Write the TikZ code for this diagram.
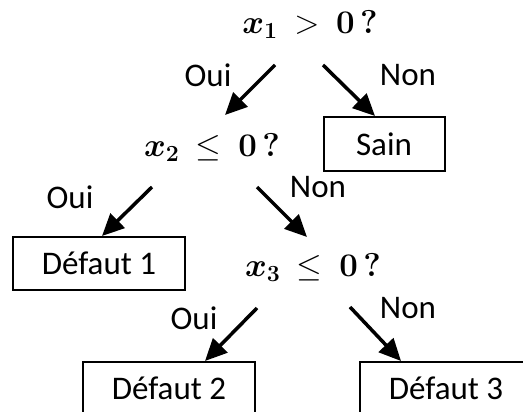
\RequirePackage{fix-cm}
\documentclass[tikz,border=0pt]{standalone}
\usepackage{amsmath,amssymb}
\usepackage[no-math]{fontspec}
\setmainfont{Carlito}
\usepackage{tikz}
\usetikzlibrary{arrows.meta,calc}
\tikzset{
  leaf/.style={draw,line width=2pt,minimum width=172pt,minimum height=53pt,inner sep=0pt},
  test/.style={inner sep=0pt},
  lbl/.style={inner sep=0pt},
  arr/.style={line width=3.5pt,-{Triangle[length=22pt,width=20pt]}}
}
\newcommand{\qtest}[2]{$\boldsymbol{x}_{\mathbf{#1}}\ #2\ \mathbf{0}\,\mbox{\usefont{OT1}{cmr}{bx}{n}?}$}

\begin{document}
\begin{tikzpicture}[x=1pt,y=-1pt,every node/.style={font=\fontsize{33}{38}\selectfont}]
      \path[use as bounding box,clip] (0,0) rectangle (523,412);
      \node[test] (q1) at (310,25) {\qtest{1}{>}};
      \node[test] (q2) at (212,148) {\qtest{2}{\leq}};
      \node[test] (q3) at (313,268) {\qtest{3}{\leq}};
      \node[leaf,minimum width=121pt,minimum height=54pt] (sain) at (384,144) {Sain};
      \node[leaf] (d1) at (99,263.5) {Défaut 1};
      \node[leaf] (d2) at (169,388.5) {Défaut 2};
      \node[leaf] (d3) at (446,388.5) {Défaut 3};
      \draw[arr] ([shift={(-35,40)}]q1.center) -- ([shift={(13,-33)}]q2.center);
      \draw[arr] ([shift={(13,40)}]q1.center) -- ([xshift=-9pt]sain.north);
      \draw[arr] ([shift={(-60,39)}]q2.center) -- ([xshift=3pt]d1.north);
      \draw[arr] ([shift={(45,39)}]q2.center) -- ([shift={(-6,-31)}]q3.center);
      \draw[arr] ([shift={(-56,40)}]q3.center) -- ([xshift=36pt]d2.north);
      \draw[arr] ([shift={(37,39)}]q3.center) -- ([xshift=-45pt]d3.north);
      \node[lbl] (o1) at (208,75) {Oui};
      \node[lbl] (n1) at (408,75) {Non};
      \node[lbl] (o2) at (70,197) {Oui};
      \node[lbl] (n2) at (318,187) {Non};
      \node[lbl] (o3) at (194,318) {Oui};
      \node[lbl] (n3) at (408,308) {Non};
    \end{tikzpicture}
\end{document}
